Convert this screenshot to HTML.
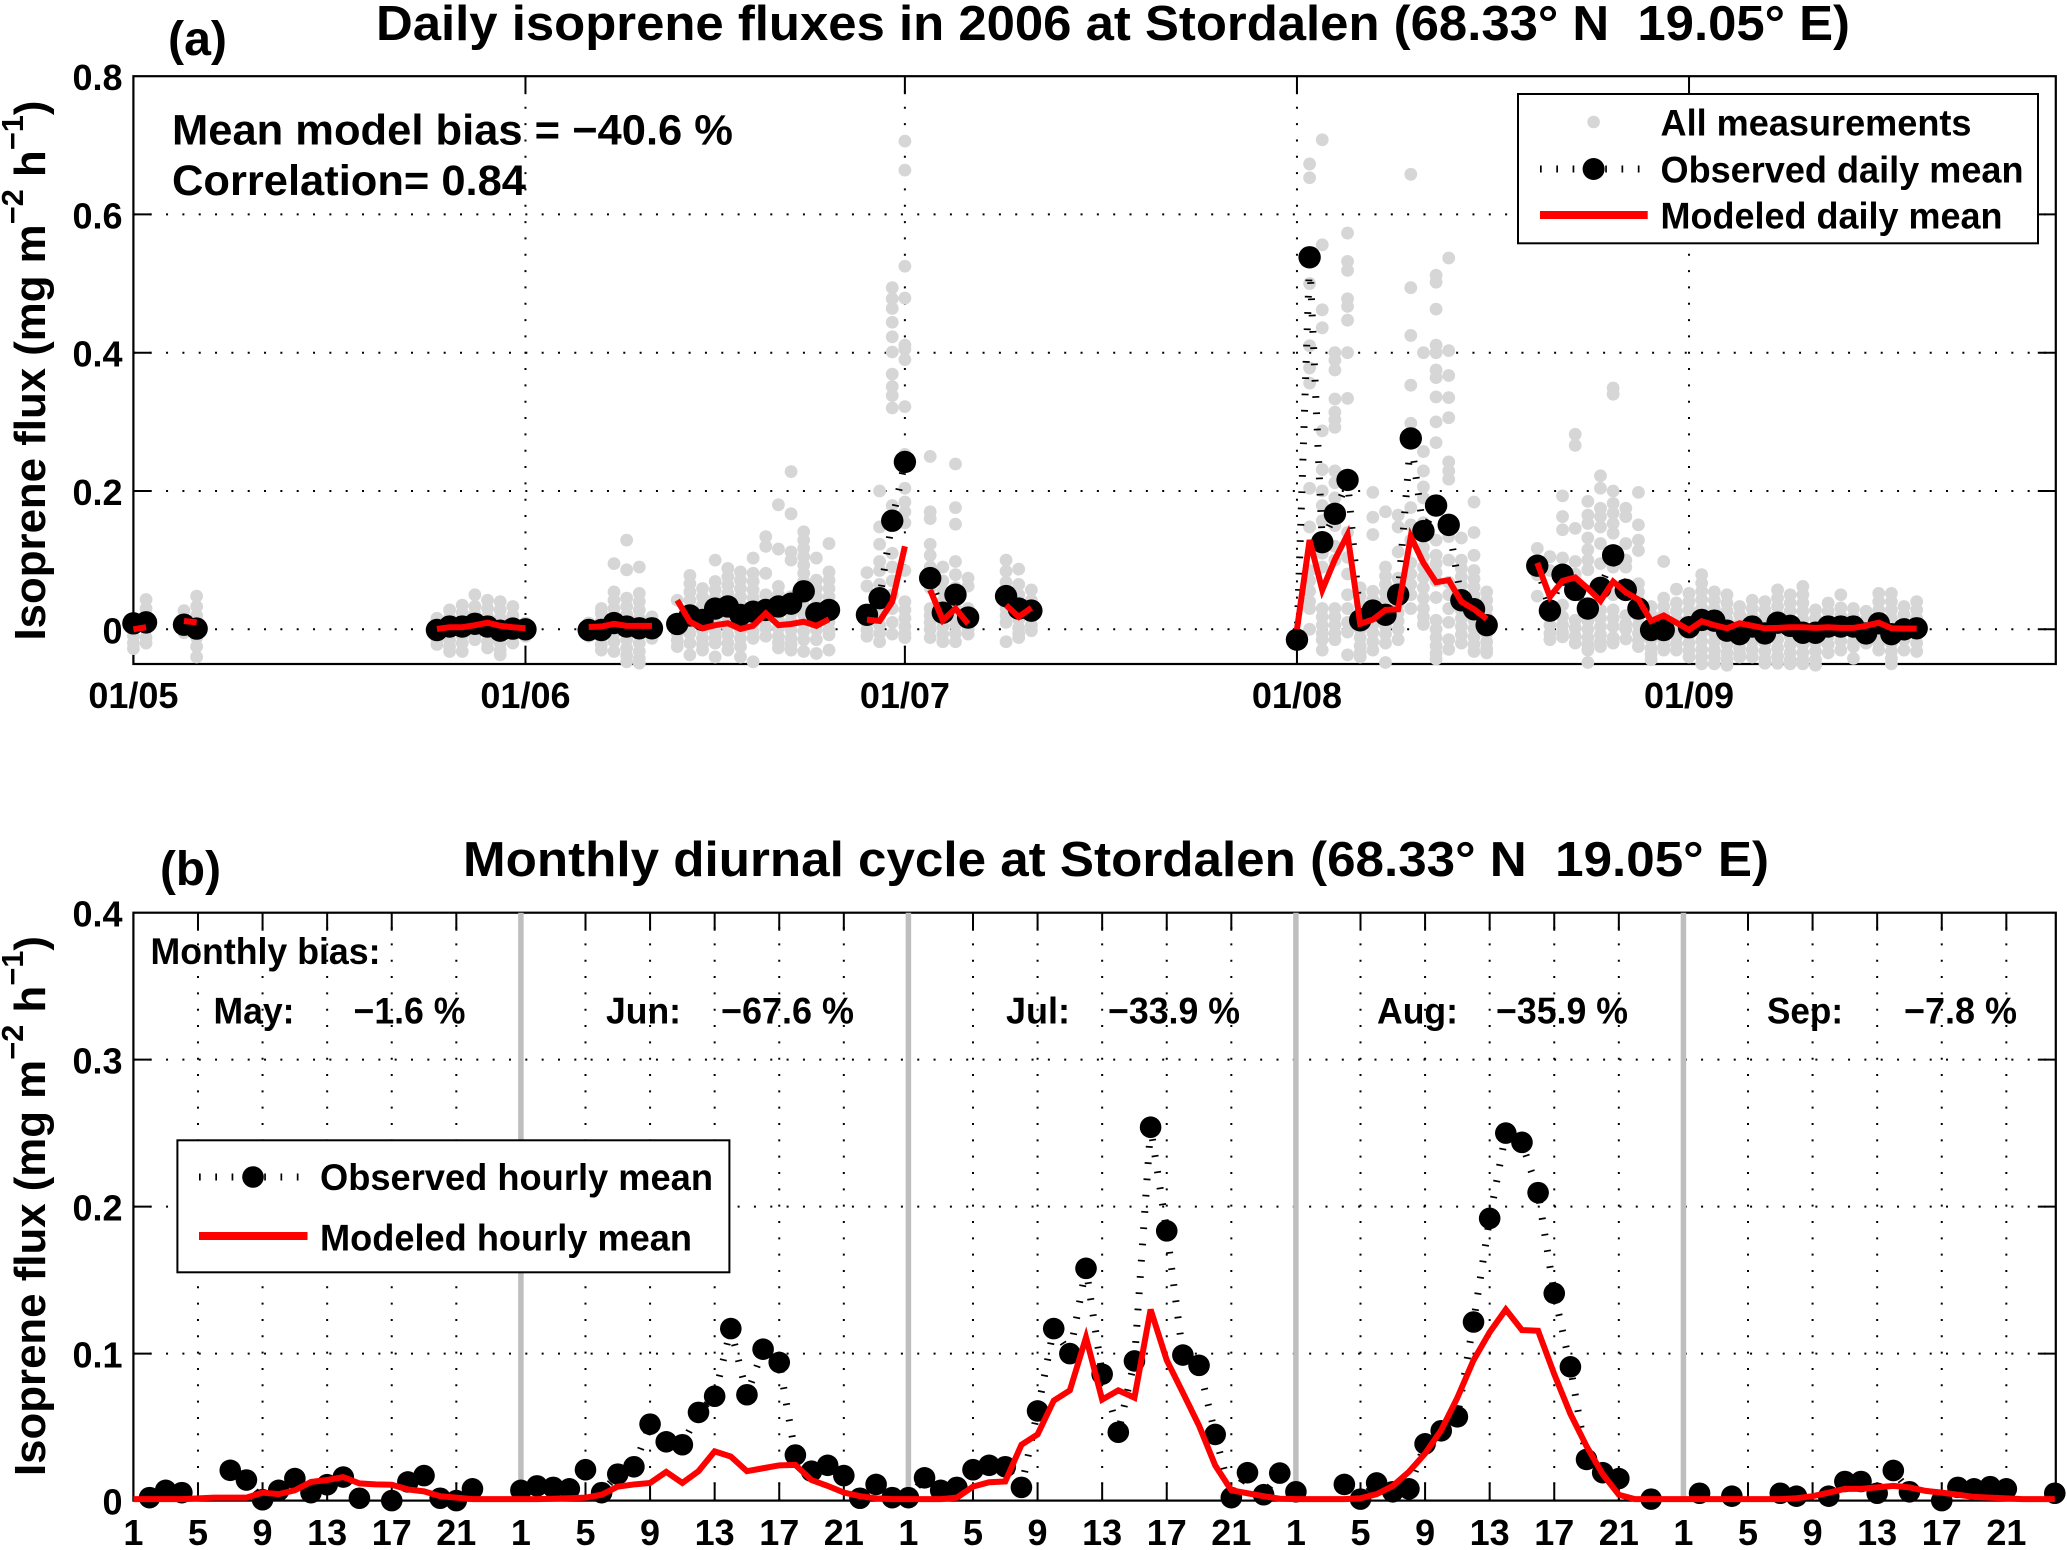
<!DOCTYPE html>
<html lang="en">
<head>
<meta charset="utf-8">
<title>Isoprene fluxes at Stordalen</title>
<style>
html,body{margin:0;padding:0;background:#fff;}
svg{display:block;}
text{font-family:"Liberation Sans",sans-serif;font-weight:bold;fill:#000;}
</style>
</head>
<body>
<svg id="figure" xmlns="http://www.w3.org/2000/svg" width="2067" height="1550" viewBox="0 0 2067 1550">
  <rect x="0" y="0" width="2067" height="1550" fill="#fff"/>
  <g id="panelA"></g>
  <g id="panelB"></g>

  <g>
    <text x="376" y="40" font-size="49" textLength="1474" lengthAdjust="spacingAndGlyphs" xml:space="preserve">Daily isoprene fluxes in 2006 at Stordalen (68.33° N  19.05° E)</text>
    <text x="168" y="55" font-size="48" textLength="59" lengthAdjust="spacingAndGlyphs">(a)</text>
    <text transform="translate(45,640.5) rotate(-90)" font-size="44" textLength="540" lengthAdjust="spacingAndGlyphs">Isoprene flux (mg m<tspan dy="-22" font-size="31">−2</tspan><tspan dy="22"> h</tspan><tspan dy="-22" font-size="31">−1</tspan><tspan dy="22">)</tspan></text>
    <text x="172" y="144.6" font-size="43" textLength="561" lengthAdjust="spacingAndGlyphs">Mean model bias = −40.6 %</text>
    <text x="172" y="195" font-size="43" textLength="354" lengthAdjust="spacingAndGlyphs">Correlation= 0.84</text>
  </g>

  <g>
    <text x="463" y="876" font-size="49" textLength="1306" lengthAdjust="spacingAndGlyphs" xml:space="preserve">Monthly diurnal cycle at Stordalen (68.33° N  19.05° E)</text>
    <text x="160" y="885" font-size="48" textLength="61" lengthAdjust="spacingAndGlyphs">(b)</text>
    <text transform="translate(45,1476) rotate(-90)" font-size="44" textLength="540" lengthAdjust="spacingAndGlyphs">Isoprene flux (mg m<tspan dy="-22" font-size="31">−2</tspan><tspan dy="22"> h</tspan><tspan dy="-22" font-size="31">−1</tspan><tspan dy="22">)</tspan></text>
    <text x="150.5" y="964" font-size="37" textLength="230" lengthAdjust="spacingAndGlyphs">Monthly bias:</text>
    <text x="213.5" y="1023.4" font-size="37" textLength="81" lengthAdjust="spacingAndGlyphs">May:</text>
    <text x="353.5" y="1023.4" font-size="37" textLength="112" lengthAdjust="spacingAndGlyphs">−1.6 %</text>
    <text x="606" y="1023.4" font-size="37" textLength="75" lengthAdjust="spacingAndGlyphs">Jun:</text>
    <text x="721" y="1023.4" font-size="37" textLength="133" lengthAdjust="spacingAndGlyphs">−67.6 %</text>
    <text x="1006" y="1023.4" font-size="37" textLength="64" lengthAdjust="spacingAndGlyphs">Jul:</text>
    <text x="1108" y="1023.4" font-size="37" textLength="132" lengthAdjust="spacingAndGlyphs">−33.9 %</text>
    <text x="1377" y="1023.4" font-size="37" textLength="81" lengthAdjust="spacingAndGlyphs">Aug:</text>
    <text x="1496" y="1023.4" font-size="37" textLength="132" lengthAdjust="spacingAndGlyphs">−35.9 %</text>
    <text x="1767" y="1023.4" font-size="37" textLength="76" lengthAdjust="spacingAndGlyphs">Sep:</text>
    <text x="1904" y="1023.4" font-size="37" textLength="113" lengthAdjust="spacingAndGlyphs">−7.8 %</text>
  </g>

  <g>
    <rect x="1518" y="94" width="520" height="149.3" fill="#fff" stroke="#000" stroke-width="2"/>
    <circle cx="1593.6" cy="122" r="6.3" fill="#d6d6d6"/>
    <text x="1660.5" y="135.7" font-size="37" textLength="311" lengthAdjust="spacingAndGlyphs">All measurements</text>
    <line x1="1540" y1="169" x2="1648" y2="169" stroke="#000" stroke-width="7" stroke-dasharray="1.7 14.6"/>
    <circle cx="1593.6" cy="169" r="11" fill="#000"/>
    <text x="1660.5" y="182.3" font-size="37" textLength="363" lengthAdjust="spacingAndGlyphs">Observed daily mean</text>
    <line x1="1540" y1="215" x2="1647.7" y2="215" stroke="#f00" stroke-width="8"/>
    <text x="1660.5" y="228.3" font-size="37" textLength="342" lengthAdjust="spacingAndGlyphs">Modeled daily mean</text>
  </g>

  <g>
    <rect x="177.4" y="1140.3" width="552" height="132" fill="#fff" stroke="#000" stroke-width="2"/>
    <line x1="199" y1="1177" x2="307" y2="1177" stroke="#000" stroke-width="7" stroke-dasharray="1.7 14.6"/>
    <circle cx="253" cy="1177" r="10.8" fill="#000"/>
    <text x="320" y="1190" font-size="37" textLength="393" lengthAdjust="spacingAndGlyphs">Observed hourly mean</text>
    <line x1="199" y1="1236" x2="307.5" y2="1236" stroke="#f00" stroke-width="8"/>
    <text x="320" y="1250.6" font-size="37" textLength="372" lengthAdjust="spacingAndGlyphs">Modeled hourly mean</text>
  </g>
</svg>

<script>
// ---------- Panel (a) data ----------
const monthTickDays = [0, 31, 61, 92, 123];
const monthTickLabels = ["01/05", "01/06", "01/07", "01/08", "01/09"];
const fluxTicksA = [0, 0.2, 0.4, 0.6, 0.8];
const fluxTickLabelsA = ["0", "0.2", "0.4", "0.6", "0.8"];

const dailyDays = [0,1,4,5,
  24,25,26,27,28,29,30,31,
  36,37,38,39,40,41,
  43,44,45,46,47,48,49,50,51,52,53,54,55,
  58,59,60,61,63,64,65,66,69,70,71,
  92,93,94,95,96,97,98,99,100,101,102,103,104,105,106,107,
  111,112,113,114,115,116,117,118,119,120,121,122,123,124,125,126,127,128,129,130,131,132,133,134,135,136,137,138,139,140,141];
const observedDaily = [.0086,.01,.0066,.001,
  -.001,.004,.004,.008,.004,-.002,.001,0,
  -.001,-.001,.009,.004,.0015,.0015,
  .0077,.02,.0135,.03,.033,.0207,.0255,.028,.033,.037,.055,.0232,.028,
  .021,.045,.157,.242,.074,.024,.05,.017,.048,.03,.027,
  -.015,.538,.126,.167,.216,.013,.027,.021,.05,.276,.142,.179,.151,.042,.029,.006,
  .092,.027,.079,.057,.03,.06,.107,.057,.03,-.001,-.001,null,.003,.0135,.0125,-.002,-.007,.004,-.006,.0096,.005,-.005,-.005,.004,.004,.004,-.006,.0087,-.007,0,.0015];
const modeledDaily = [0,.003,.012,.01,
  .0005,.003,.003,.006,.0096,.005,.003,.0015,
  .0034,.004,.008,.005,.005,.005,
  .042,.011,.0015,.006,.0087,.0005,.005,.023,.006,.0077,.011,.005,.0145,
  .014,.012,.04,.12,.057,.013,.03,.008,.035,.018,.031,
  0,.129,.057,.101,.137,.008,.014,.028,.029,.134,.096,.068,.071,.04,.029,.015,
  .096,.047,.07,.075,.059,.041,.069,.0535,.043,.012,.02,.0096,-.001,.0116,.006,.0015,.0087,.005,.0015,.002,.003,.003,.002,.003,.002,.002,.005,.0096,.0015,.001,.001];

const measurementDays = [0,1,4,5,24,25,26,27,28,29,30,31,36,37,38,39,40,41,43,44,45,46,47,48,49,50,51,52,53,54,55,
  58,59,60,61,63,64,65,66,69,70,71,
  93,94,95,96,97,98,99,100,101,102,103,104,105,106,107,
  111,112,113,114,115,116,117,118,119,120,121,122,123,124,125,126,127,128,129,130,131,132,133,134,135,136,137,138,139,140,141];
const measurementValues = [
 [.01,0,-.01,-.02,-.028],
 [.043,.03,.02,.01,0,-.012,-.02],
 [.027,.015,.005,-.005],
 [.048,.033,.02,.01,0,-.012,-.025,-.04],
 [.016,.005,-.006,-.014,-.022],
 [.028,.017,.006,-.005,-.016,-.025,-.032],
 [.035,.024,.013,.002,-.009,-.02,-.032],
 [.05,.033,.022,.011,0,-.008,-.015],
 [.042,.03,.018,.006,-.006,-.018,-.027],
 [.04,.028,.016,.004,-.008,-.02,-.03,-.037],
 [.033,.02,.008,-.004,-.012,-.02],
 [.009,0,-.01],
 [.009,0,-.01],
 [.03,.023,.012,0,-.012,-.022,-.03],
 [.095,.054,.042,.03,.018,.006,-.006,-.018,-.032],
 [.129,.086,.045,.033,.021,.009,-.003,-.015,-.027,-.038,-.047],
 [.09,.052,.04,.028,.016,.004,-.008,-.02,-.032,-.042,-.049],
 [.018,.006,-.004,-.013],
 [.042,.012,-.006,-.016,-.025],
 [.078,.066,.054,.042,.03,.018,.006,-.006,-.02,-.037],
 [.059,.047,.035,.023,.011,-.001,-.013,-.022,-.03],
 [.1,.069,.057,.045,.033,.021,.009,-.003,-.012,-.02,-.04],
 [.088,.076,.064,.052,.04,.028,.016,.004,-.008,-.02,-.03],
 [.083,.071,.059,.047,.035,.023,.011,-.001,-.013,-.025,-.04],
 [.103,.081,.069,.057,.045,.033,.021,.009,-.003,-.013,-.047],
 [.134,.12,.081,.05,.038,.026,.014,.002,-.01],
 [.18,.116,.062,.05,.038,.026,.014,.002,-.01,-.019,-.027],
 [.228,.167,.112,.1,.047,.035,.023,.011,-.001,-.013,-.022,-.03],
 [.141,.129,.117,.105,.093,.081,.069,.057,.045,.033,.021,.009,-.003,-.015,-.032],
 [.103,.071,.059,.047,.035,.023,.011,-.001,-.015,-.035],
 [.124,.083,.071,.059,.047,.035,.023,.011,-.001,-.008,-.03],
 [.082,.0625,.02,.009,-.001,-.01],
 [.2,.148,.123,.098,.085,.065,.046,.03,.018,.006,-.006,-.018],
 [.494,.478,.464,.444,.423,.401,.369,.351,.338,.32,.179,.11,.09,.07,.05,.03,.01,-.007],
 [.706,.664,.525,.479,.411,.405,.39,.322,.253,.204,.184,.17,.154,.085,.04,.028,.016,.004,-.006,-.012],
 [.25,.17,.16,.123,.107,.09,.06,.03,.02,.01,0,-.012],
 [.09,.07,.055,.04,.028,.016,.004,-.007,-.018],
 [.239,.176,.152,.098,.079,.06,.045,.03,.018,.006,-.006,-.018],
 [.074,.0625,.03,.01,0,-.007],
 [.1,.084,.068,.03,.02,.01,-.018],
 [.087,.065,.05,.038,.026,.014,.002,-.006,-.012],
 [.057,.042,.03,.018,.006,-.002],
 [.673,.653,.5,.41,.378,.356,.204,.148,.085,.07,.055,.04,.03,0],
 [.708,.556,.462,.436,.287,.231,.2,.179,.157,.132,.11,.09,.03,.018,.006,-.006,-.015,-.03],
 [.4,.389,.375,.333,.314,.303,.292,.229,.212,.19,.15,.12,.1,.03,.018,.006,-.006,-.015],
 [.573,.532,.519,.478,.467,.447,.4,.334,.14,.104,.08,.05,.03,.01,-.004,-.037],
 [.06,.048,.036,.024,.012,0,-.012,-.024,-.034,-.04],
 [.198,.162,.137,.055,.043,.031,.019,.007,-.005,-.018,-.03],
 [.17,.09,.077,.065,.053,.041,.029,.017,.005,-.007,-.02,-.048],
 [.165,.148,.112,.074,.06,.048,.036,.024,.012,0,-.015],
 [.658,.494,.425,.353,.298,.176,.151,.129,.096,.08,.065,.05,.03],
 [.4,.257,.229,.206,.19,.154,.118,.105,.09,.075,.06,.045,.03,.018,.007],
 [.512,.502,.463,.411,.4,.375,.364,.336,.3,.27,.129,.107,.095,.082,.07,.046,.013,0,-.012,-.024,-.035,-.043],
 [.537,.403,.367,.335,.306,.242,.229,.217,.134,.1,.068,.05,.03,.01,-.015,-.029],
 [.132,.1,.088,.076,.064,.052,.04,.028,.016,.004,-.008,-.02],
 [.184,.14,.107,.085,.073,.061,.049,.037,.025,.013,.001,-.011,-.022,-.032],
 [.054,.042,.03,.018,.006,-.006,-.018,-.028,-.034],
 [.117,.1,.079,.048],
 [.105,.085,.03,.018,.006,-.006,-.015],
 [.193,.163,.144,.103,.035,.018,.006,-.005,-.011],
 [.282,.266,.146,.098,.08,.013,.002,-.01,-.02],
 [.185,.165,.153,.132,.115,.1,.086,.023,.012,0,-.012,-.022,-.03,-.048],
 [.222,.204,.175,.163,.148,.124,.095,.028,.016,.004,-.008,-.018,-.025],
 [.349,.34,.2,.182,.168,.153,.139,.09,.05,.028,.016,.004,-.012,-.02],
 [.175,.163,.124,.1,.09,.05,.02,.008,0,-.014],
 [.198,.151,.129,.114,.066,.054,.042,.03,.018,.006,-.006,-.016,-.025],
 [.033,.021,.009,-.003,-.015,-.027,-.036,-.044],
 [.098,.045,.033,.021,.009,-.003,-.015,-.024,-.03],
 [.058,.038,.026,.014,.002,-.01,-.021,-.03],
 [.052,.04,.028,.016,.004,-.008,-.02,-.031,-.04],
 [.079,.067,.055,.043,.031,.019,.007,-.005,-.017,-.029,-.04,-.05],
 [.054,.042,.03,.018,.006,-.006,-.018,-.03,-.04,-.05],
 [.05,.038,.026,.014,.002,-.01,-.022,-.034,-.044,-.052],
 [.033,.021,.009,-.003,-.015,-.027,-.036,-.04],
 [.042,.03,.018,.006,-.006,-.018,-.03,-.04],
 [.04,.028,.016,.004,-.008,-.02,-.032,-.043,-.049],
 [.057,.045,.033,.021,.009,-.003,-.015,-.027,-.039,-.049],
 [.05,.038,.026,.014,.002,-.01,-.022,-.034,-.044,-.05],
 [.062,.05,.038,.026,.014,.002,-.01,-.022,-.034,-.044,-.05],
 [.028,.016,.004,-.008,-.02,-.032,-.044,-.052],
 [.038,.026,.014,.002,-.01,-.022,-.034],
 [.05,.031,.019,.007,-.005,-.017,-.03],
 [.03,.018,.006,-.006,-.018,-.025,-.042],
 [.026,.014,.002,-.01,-.02],
 [.052,.04,.028,.016,.004,-.008,-.02,-.03],
 [.052,.04,.028,.016,.004,-.008,-.02,-.032,-.042,-.05],
 [.033,.021,.009,-.003,-.015,-.03],
 [.04,.028,.016,.004,-.008,-.02,-.032]
];

// ---------- Panel (b) data ----------
const hourTickLabels = ["1", "5", "9", "13", "17", "21"];
const fluxTicksB = [0, 0.1, 0.2, 0.3, 0.4];
const fluxTickLabelsB = ["0", "0.1", "0.2", "0.3", "0.4"];
const monthBoundaryHours = [24, 48, 72, 96];

const observedHourly = [
 null,.002,.007,.0054,null,null,.0206,.014,.0006,.007,.015,.0054,.0108,.016,.0016,null,0,.0127,.017,.0016,0,.008,null,null,
 .007,.01,.009,.008,.021,.0054,.018,.023,.052,.04,.038,.06,.071,.117,.072,.103,.094,.031,.02,.024,.017,.0016,.011,.002,
 .002,.0155,.007,.009,.021,.024,.023,.009,.061,.117,.1,.158,.086,.0465,.095,.254,.1835,.099,.092,.045,.002,.019,.004,.0187,
 .006,null,null,.011,.001,.012,.006,.008,.0386,.0475,.057,.1215,.192,.25,.2437,.2095,.141,.091,.028,.019,.015,null,.001,null,
 null,.005,null,.003,null,null,.005,.003,null,.003,.013,.013,.005,.0205,.006,null,0,.009,.008,.0095,.008,null,null,.005
];
const modeledHourly = [
 .001,.001,.001,.001,.0015,.002,.002,.002,.0054,.0044,.007,.0127,.014,.016,.0117,.011,.0108,.0076,.0063,.003,.002,.001,.001,.001,
 .001,.001,.0013,.0016,.002,.004,.0095,.011,.012,.0195,.012,.02,.0335,.03,.02,.022,.024,.0243,.014,.01,.0055,.003,.0015,.001,
 .001,.001,.001,.002,.0095,.0125,.013,.038,.045,.068,.075,.111,.0687,.075,.07,.13,.0955,.0734,.051,.024,.007,.005,.003,.0013,
 .001,.001,.001,.001,.0016,.0044,.01,.0196,.032,.048,.07,.0955,.1145,.13,.116,.1155,.086,.059,.037,.018,.004,.001,.001,.001,
 .001,.001,.001,.001,.001,.001,.001,.0016,.003,.0054,.008,.008,.009,.01,.009,.0066,.0054,.004,.0025,.002,.0015,.001,.001,.001
];

// ---------- Drawing ----------
const NS = 'http://www.w3.org/2000/svg';
const plotLeft = 133.4;
const plotRight = 2055.8;

function svgEl(tag, attrs, parent) {
  const el = document.createElementNS(NS, tag);
  for (const k in attrs) el.setAttribute(k, attrs[k]);
  parent.appendChild(el);
  return el;
}

// Axis functions
function xDay(d) { return plotLeft + d * (plotRight - plotLeft) / 152; }
function yDaily(v) { return 629.3 - v * 691.5; }
function xHour(i) { return plotLeft + i * 16.146; }
function yHourly(v) { return 1500.6 - v * 1470; }

function drawFrame(group, top, bottom, xPositions, yPositions, xLabels, yLabels, labelBase) {
  xPositions.forEach(function (x, i) {
    if (x > plotLeft + 1 && x < plotRight - 1) {
      const grid = svgEl('line', {x1: x, y1: bottom, x2: x, y2: top, stroke: '#000', 'stroke-width': 2, 'stroke-dasharray': '2 14.33'}, group);
      
      
      const tickB = svgEl('line', {x1: x, y1: bottom, x2: x, y2: bottom - 18, stroke: '#000', 'stroke-width': 2}, group);
      
      
      const tickT = svgEl('line', {x1: x, y1: top, x2: x, y2: top + 18, stroke: '#000', 'stroke-width': 2}, group);
      
      
    }
    const label = svgEl('text', {x: x, y: labelBase, 'font-size': 36, 'text-anchor': 'middle'}, group);
    label.textContent = xLabels[i];
    
    
  });
  yPositions.forEach(function (y, i) {
    if (y > top + 1 && y < bottom - 1) {
      const grid = svgEl('line', {x1: plotLeft, y1: y, x2: plotRight, y2: y, stroke: '#000', 'stroke-width': 2, 'stroke-dasharray': '2 14.33'}, group);
      
      
      const tickL = svgEl('line', {x1: plotLeft, y1: y, x2: plotLeft + 18, y2: y, stroke: '#000', 'stroke-width': 2}, group);
      
      
      const tickR = svgEl('line', {x1: plotRight, y1: y, x2: plotRight - 18, y2: y, stroke: '#000', 'stroke-width': 2}, group);
      
      
    }
    const label = svgEl('text', {x: 122.5, y: y + 14, 'font-size': 36, 'text-anchor': 'end'}, group);
    label.textContent = yLabels[i];
    
    
  });
  const frame = svgEl('rect', {x: plotLeft, y: top, width: plotRight - plotLeft, height: bottom - top, fill: 'none', stroke: '#000', 'stroke-width': 2.2}, group);
  
  
}

function runsOf(xKeys, values) {
  const runs = [];
  let cur = [];
  values.forEach(function (v, i) {
    if (v === null) {
      if (cur.length) runs.push(cur);
      cur = [];
      return;
    }
    if (cur.length && xKeys[i] - cur[cur.length - 1][0] > 1) {
      runs.push(cur);
      cur = [];
    }
    cur.push([xKeys[i], v]);
  });
  if (cur.length) runs.push(cur);
  return runs;
}

function pointsAttr(run, fx, fy) {
  return run.map(function (p) { return fx(p[0]).toFixed(2) + ',' + fy(p[1]).toFixed(2); }).join(' ');
}

// Panel (a)
const gA = document.getElementById('panelA');
drawFrame(gA, 76.2, 664,
  monthTickDays.map(xDay),
  fluxTicksA.map(yDaily),
  monthTickLabels, fluxTickLabelsA, 708);

measurementDays.forEach(function (day, i) {
  measurementValues[i].forEach(function (v) {
    const dot = svgEl('circle', {cx: xDay(day), cy: yDaily(v), r: 6.4, fill: '#d6d6d6'}, gA);
    
    
  });
});

runsOf(dailyDays, observedDaily).forEach(function (run) {
  const line = svgEl('polyline', {points: pointsAttr(run, xDay, yDaily), fill: 'none', stroke: '#000', 'stroke-width': 7, 'stroke-dasharray': '1.7 14.6'}, gA);
  
  
});
dailyDays.forEach(function (day, i) {
  if (observedDaily[i] === null) return;
  const dot = svgEl('circle', {cx: xDay(day), cy: yDaily(observedDaily[i]), r: 11.2, fill: '#000'}, gA);
  
  
});
runsOf(dailyDays, modeledDaily).forEach(function (run) {
  const line = svgEl('polyline', {points: pointsAttr(run, xDay, yDaily), fill: 'none', stroke: '#f00', 'stroke-width': 6, 'stroke-linejoin': 'miter'}, gA);
  
  
});

// Panel (b)
const gB = document.getElementById('panelB');
const hourTickIndex = [];
const hourTickText = [];
for (let m = 0; m < 5; m++) {
  hourTickLabels.forEach(function (lab, j) {
    hourTickIndex.push(m * 24 + j * 4);
    hourTickText.push(lab);
  });
}
drawFrame(gB, 912.7, 1500.6,
  hourTickIndex.map(xHour),
  fluxTicksB.map(yHourly),
  hourTickText, fluxTickLabelsB, 1545);

monthBoundaryHours.forEach(function (h) {
  const bar = svgEl('line', {x1: xHour(h), y1: 912.7, x2: xHour(h), y2: 1500.6, stroke: '#bebebe', 'stroke-width': 5.5}, gB);
  
  
});

const hourIndex = observedHourly.map(function (v, i) { return i; });
runsOf(hourIndex, observedHourly).forEach(function (run) {
  const line = svgEl('polyline', {points: pointsAttr(run, xHour, yHourly), fill: 'none', stroke: '#000', 'stroke-width': 7, 'stroke-dasharray': '1.7 14.6'}, gB);
  
  
});
hourIndex.forEach(function (h) {
  if (observedHourly[h] === null) return;
  const dot = svgEl('circle', {cx: xHour(h), cy: yHourly(observedHourly[h]), r: 10.8, fill: '#000'}, gB);
  
  
});
const modelLine = svgEl('polyline', {points: pointsAttr(modeledHourly.map(function (v, i) { return [i, v]; }), xHour, yHourly), fill: 'none', stroke: '#f00', 'stroke-width': 6}, gB);


</script>
</body>
</html>
